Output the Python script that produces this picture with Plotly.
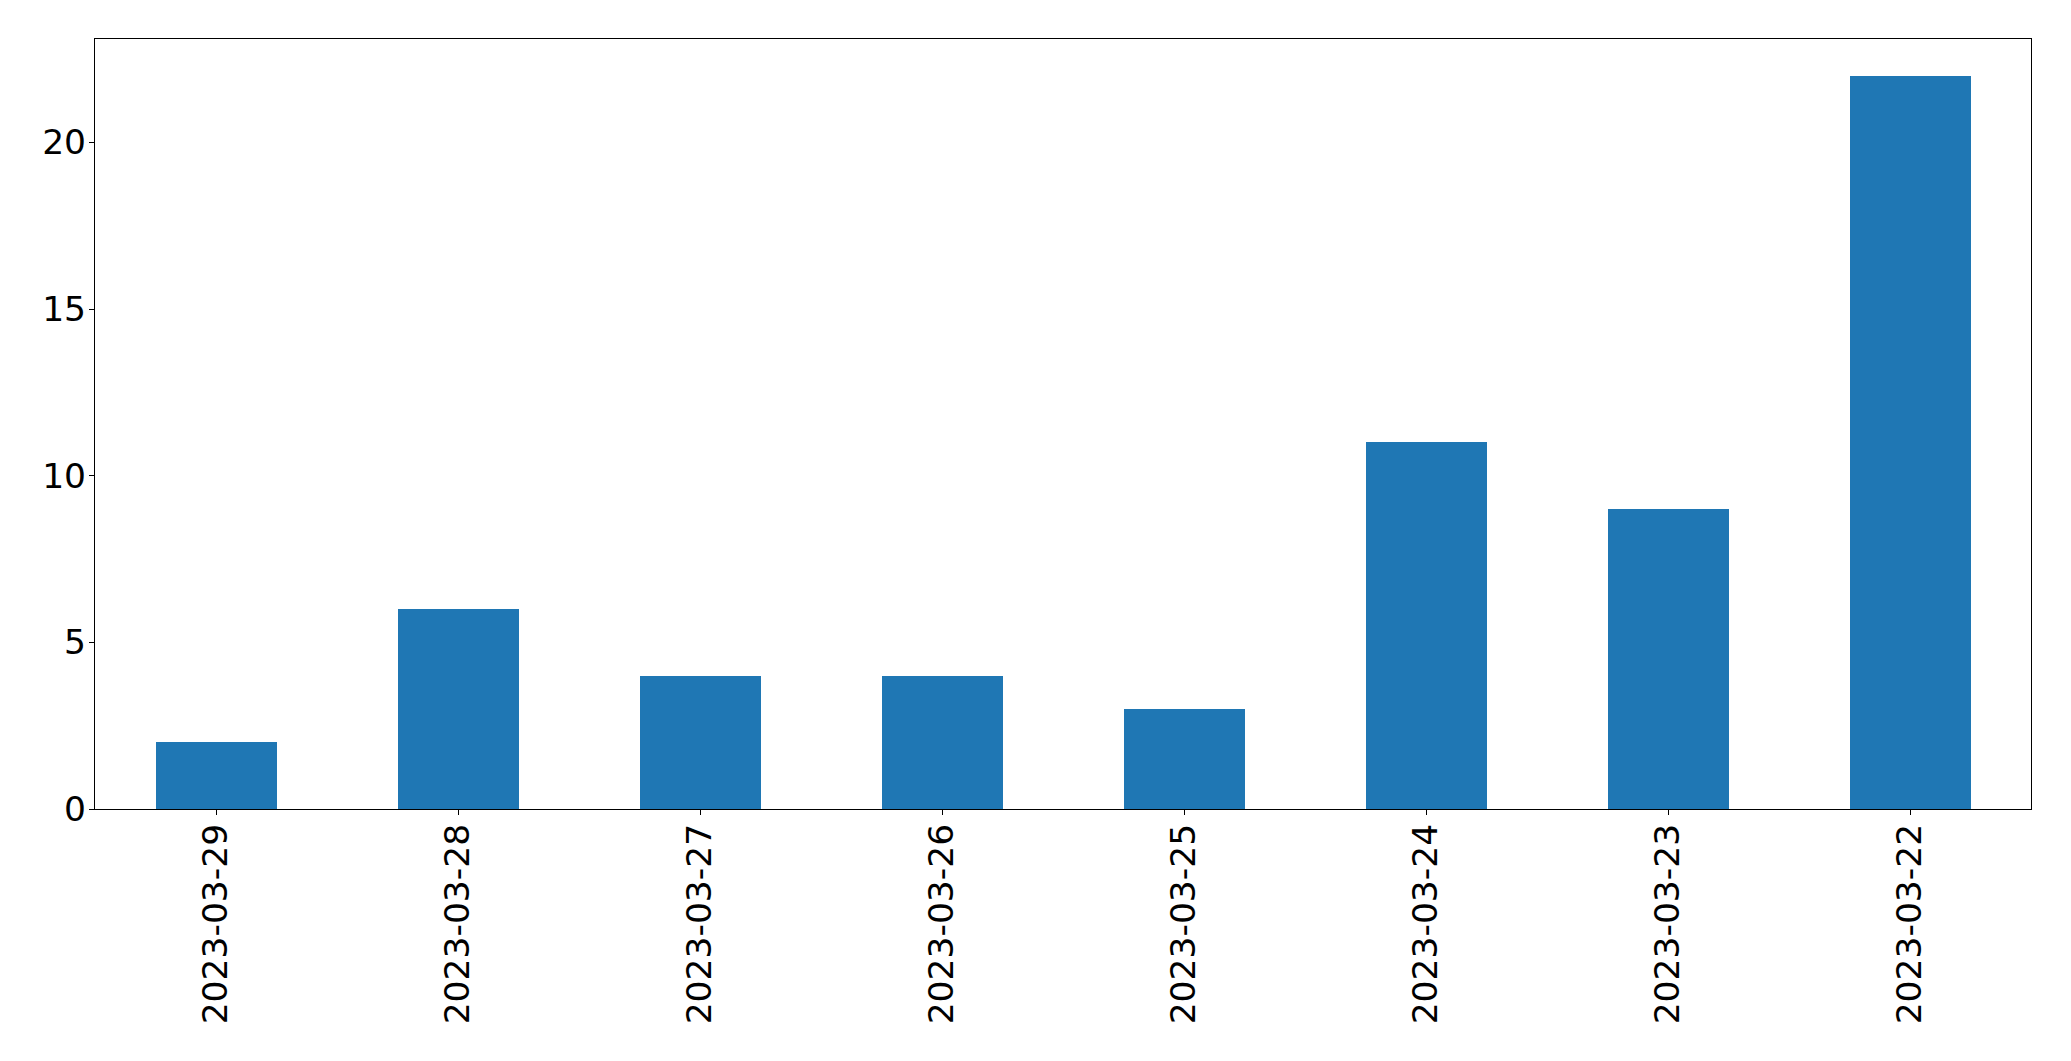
import plotly.graph_objects as go

dates = ["2023-03-29", "2023-03-28", "2023-03-27", "2023-03-26",
         "2023-03-25", "2023-03-24", "2023-03-23", "2023-03-22"]
counts = [2, 6, 4, 4, 3, 11, 9, 22]
y_ticks = [0, 5, 10, 15, 20]

fig = go.Figure()
fig.add_trace(go.Bar(
    x=dates, y=counts, width=0.5,
    marker=dict(color="#1f77b4", line=dict(width=0)),
))

font = dict(family="DejaVu Sans", size=34.5, color="black")
# page body has an 8px default margin, so margins are shifted by 8px
fig.update_layout(
    width=2071, height=1061,
    margin=dict(l=87, r=48, t=31, b=260, pad=0),
    paper_bgcolor="white", plot_bgcolor="white",
    showlegend=False,
    font=font,
    bargap=0,
)
fig.update_xaxes(
    type="category", range=[-0.5, len(dates) - 0.5],
    showline=True, mirror=True, linecolor="black", linewidth=1.1,
    ticks="outside", ticklen=5, tickwidth=1.1, tickcolor="black",
    tickangle=-90, showgrid=False, zeroline=False, automargin=False,
    tickfont=font, ticklabelstandoff=-5,
)
fig.update_yaxes(
    range=[0, max(counts) * 1.05], tickvals=y_ticks,
    showline=True, mirror=True, linecolor="black", linewidth=1.1,
    ticks="outside", ticklen=5, tickwidth=1.1, tickcolor="black",
    showgrid=False, zeroline=False, automargin=False,
    tickfont=font, ticklabelstandoff=-4,
)

fig.write_html("out.html")
